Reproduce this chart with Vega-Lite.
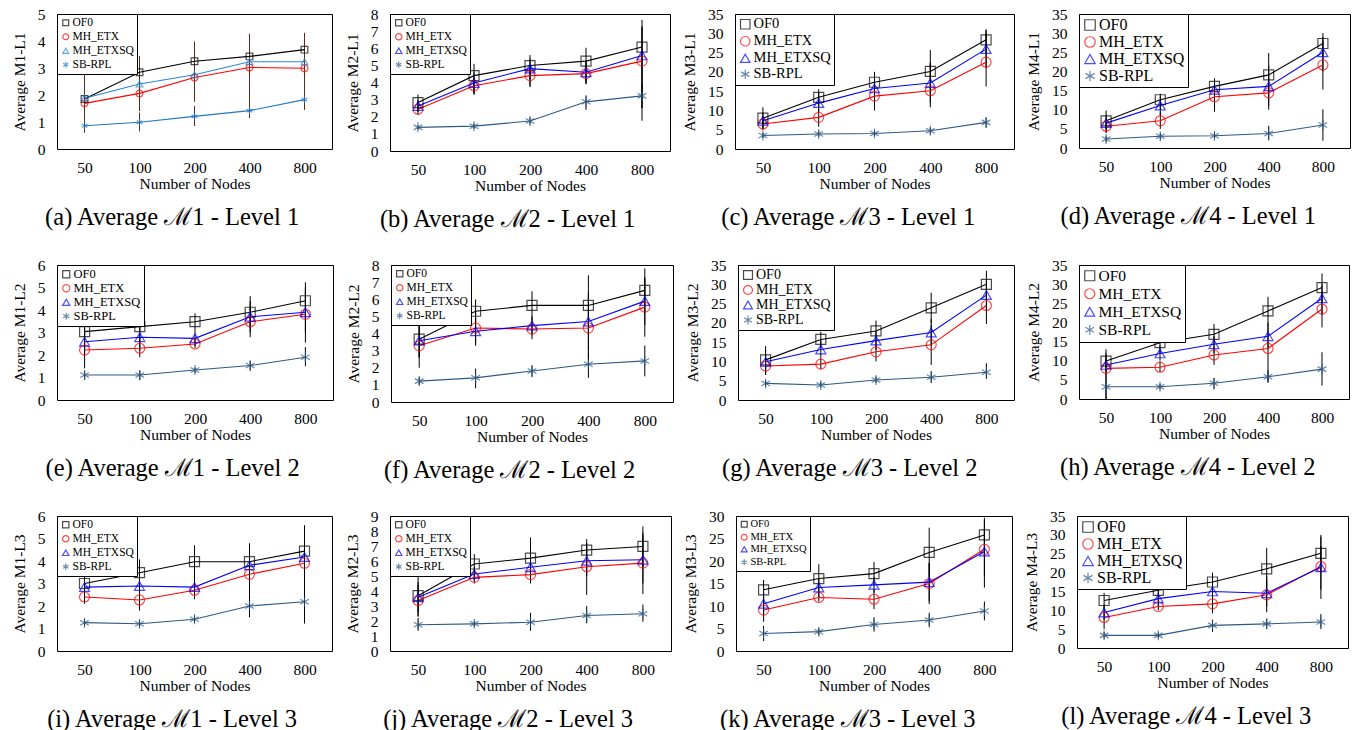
{
"$schema":"https://vega.github.io/schema/vega-lite/v6.json",
"padding":{"left":11,"top":6,"right":2,"bottom":0},
"data":{"values":[
{"p":"a","s":"OF0","n":50,"v":1.85,"lo":1.2,"hi":2.2},{"p":"a","s":"OF0","n":100,"v":2.84,"lo":2.3,"hi":3.1},{"p":"a","s":"OF0","n":200,"v":3.25,"lo":2.5,"hi":3.98},{"p":"a","s":"OF0","n":400,"v":3.43,"lo":2.9,"hi":3.95},{"p":"a","s":"OF0","n":800,"v":3.68,"lo":3.0,"hi":4.25},
{"p":"a","s":"MH_ETX","n":50,"v":1.69,"lo":1.0,"hi":2.9},{"p":"a","s":"MH_ETX","n":100,"v":2.06,"lo":1.4,"hi":3.45},{"p":"a","s":"MH_ETX","n":200,"v":2.65,"lo":1.75,"hi":3.78},{"p":"a","s":"MH_ETX","n":400,"v":3.02,"lo":1.8,"hi":4.27},{"p":"a","s":"MH_ETX","n":800,"v":2.99,"lo":2.2,"hi":4.3},
{"p":"a","s":"MH_ETXSQ","n":50,"v":1.88,"lo":1.5,"hi":2.1},{"p":"a","s":"MH_ETXSQ","n":100,"v":2.41,"lo":2.0,"hi":2.8},{"p":"a","s":"MH_ETXSQ","n":200,"v":2.75,"lo":2.4,"hi":3.1},{"p":"a","s":"MH_ETXSQ","n":400,"v":3.23,"lo":2.2,"hi":3.9},{"p":"a","s":"MH_ETXSQ","n":800,"v":3.23,"lo":2.2,"hi":4.0},
{"p":"a","s":"SB-RPL","n":50,"v":0.86,"lo":0.6,"hi":1.1},{"p":"a","s":"SB-RPL","n":100,"v":0.99,"lo":0.65,"hi":1.35},{"p":"a","s":"SB-RPL","n":200,"v":1.21,"lo":0.85,"hi":1.6},{"p":"a","s":"SB-RPL","n":400,"v":1.42,"lo":1.15,"hi":2.2},{"p":"a","s":"SB-RPL","n":800,"v":1.83,"lo":1.45,"hi":2.2},
{"p":"b","s":"OF0","n":50,"v":2.83,"lo":2.3,"hi":3.3},{"p":"b","s":"OF0","n":100,"v":4.4,"lo":3.3,"hi":5.09},{"p":"b","s":"OF0","n":200,"v":4.99,"lo":3.73,"hi":5.6},{"p":"b","s":"OF0","n":400,"v":5.25,"lo":3.93,"hi":6.03},{"p":"b","s":"OF0","n":800,"v":6.07,"lo":1.77,"hi":7.66},
{"p":"b","s":"MH_ETX","n":50,"v":2.44,"lo":2.1,"hi":2.9},{"p":"b","s":"MH_ETX","n":100,"v":3.81,"lo":3.3,"hi":4.3},{"p":"b","s":"MH_ETX","n":200,"v":4.4,"lo":3.8,"hi":5.0},{"p":"b","s":"MH_ETX","n":400,"v":4.52,"lo":3.9,"hi":5.2},{"p":"b","s":"MH_ETX","n":800,"v":5.25,"lo":2.5,"hi":7.2},
{"p":"b","s":"MH_ETXSQ","n":50,"v":2.63,"lo":2.3,"hi":3.0},{"p":"b","s":"MH_ETXSQ","n":100,"v":3.97,"lo":3.4,"hi":4.6},{"p":"b","s":"MH_ETXSQ","n":200,"v":4.81,"lo":4.2,"hi":5.4},{"p":"b","s":"MH_ETXSQ","n":400,"v":4.6,"lo":4.0,"hi":5.3},{"p":"b","s":"MH_ETXSQ","n":800,"v":5.58,"lo":3.0,"hi":7.3},
{"p":"b","s":"SB-RPL","n":50,"v":1.38,"lo":1.25,"hi":1.5},{"p":"b","s":"SB-RPL","n":100,"v":1.45,"lo":1.3,"hi":1.6},{"p":"b","s":"SB-RPL","n":200,"v":1.75,"lo":1.55,"hi":1.95},{"p":"b","s":"SB-RPL","n":400,"v":2.87,"lo":2.4,"hi":3.25},{"p":"b","s":"SB-RPL","n":800,"v":3.22,"lo":2.5,"hi":3.9},
{"p":"c","s":"OF0","n":50,"v":8.0,"lo":5,"hi":10.8},{"p":"c","s":"OF0","n":100,"v":13.4,"lo":11,"hi":15.5},{"p":"c","s":"OF0","n":200,"v":17.3,"lo":14.5,"hi":20},{"p":"c","s":"OF0","n":400,"v":20.1,"lo":15,"hi":25.7},{"p":"c","s":"OF0","n":800,"v":28.3,"lo":25,"hi":30.9},
{"p":"c","s":"MH_ETX","n":50,"v":6.5,"lo":5,"hi":8.5},{"p":"c","s":"MH_ETX","n":100,"v":8.2,"lo":5.8,"hi":10.5},{"p":"c","s":"MH_ETX","n":200,"v":13.7,"lo":10,"hi":17.5},{"p":"c","s":"MH_ETX","n":400,"v":15.1,"lo":10.8,"hi":22.5},{"p":"c","s":"MH_ETX","n":800,"v":22.5,"lo":16.2,"hi":31},
{"p":"c","s":"MH_ETXSQ","n":50,"v":7.3,"lo":5.5,"hi":9.5},{"p":"c","s":"MH_ETXSQ","n":100,"v":11.9,"lo":9.5,"hi":14.5},{"p":"c","s":"MH_ETXSQ","n":200,"v":15.7,"lo":12.5,"hi":18.5},{"p":"c","s":"MH_ETXSQ","n":400,"v":17.1,"lo":12,"hi":22},{"p":"c","s":"MH_ETXSQ","n":800,"v":25.9,"lo":21,"hi":30},
{"p":"c","s":"SB-RPL","n":50,"v":3.5,"lo":2.8,"hi":4.2},{"p":"c","s":"SB-RPL","n":100,"v":3.9,"lo":3.2,"hi":4.6},{"p":"c","s":"SB-RPL","n":200,"v":4.0,"lo":3.3,"hi":4.8},{"p":"c","s":"SB-RPL","n":400,"v":4.75,"lo":3.9,"hi":5.6},{"p":"c","s":"SB-RPL","n":800,"v":6.9,"lo":5.5,"hi":8.2},
{"p":"d","s":"OF0","n":50,"v":7.1,"lo":4,"hi":9.8},{"p":"d","s":"OF0","n":100,"v":12.6,"lo":10,"hi":14.2},{"p":"d","s":"OF0","n":200,"v":16.1,"lo":13,"hi":18.2},{"p":"d","s":"OF0","n":400,"v":19.1,"lo":14,"hi":24.8},{"p":"d","s":"OF0","n":800,"v":27.3,"lo":24,"hi":30},
{"p":"d","s":"MH_ETX","n":50,"v":5.7,"lo":4,"hi":7.5},{"p":"d","s":"MH_ETX","n":100,"v":7.1,"lo":5,"hi":9.5},{"p":"d","s":"MH_ETX","n":200,"v":13.4,"lo":9.5,"hi":17},{"p":"d","s":"MH_ETX","n":400,"v":14.4,"lo":10,"hi":19},{"p":"d","s":"MH_ETX","n":800,"v":21.7,"lo":15.3,"hi":28},
{"p":"d","s":"MH_ETXSQ","n":50,"v":6.5,"lo":5,"hi":8.5},{"p":"d","s":"MH_ETXSQ","n":100,"v":11.1,"lo":8.5,"hi":13.5},{"p":"d","s":"MH_ETXSQ","n":200,"v":15.2,"lo":12,"hi":18},{"p":"d","s":"MH_ETXSQ","n":400,"v":16.1,"lo":11,"hi":21.5},{"p":"d","s":"MH_ETXSQ","n":800,"v":25.0,"lo":20,"hi":29},
{"p":"d","s":"SB-RPL","n":50,"v":2.35,"lo":1.5,"hi":3.2},{"p":"d","s":"SB-RPL","n":100,"v":3.05,"lo":2.2,"hi":3.9},{"p":"d","s":"SB-RPL","n":200,"v":3.2,"lo":2.3,"hi":4.1},{"p":"d","s":"SB-RPL","n":400,"v":3.8,"lo":2,"hi":5.8},{"p":"d","s":"SB-RPL","n":800,"v":6.0,"lo":1.9,"hi":10.1},
{"p":"e","s":"OF0","n":50,"v":3.04,"lo":2.7,"hi":3.38},{"p":"e","s":"OF0","n":100,"v":3.26,"lo":2.6,"hi":3.96},{"p":"e","s":"OF0","n":200,"v":3.48,"lo":3.1,"hi":3.85},{"p":"e","s":"OF0","n":400,"v":3.9,"lo":3.2,"hi":4.62},{"p":"e","s":"OF0","n":800,"v":4.41,"lo":3.6,"hi":5.23},
{"p":"e","s":"MH_ETX","n":50,"v":2.22,"lo":1.41,"hi":3.0},{"p":"e","s":"MH_ETX","n":100,"v":2.3,"lo":1.9,"hi":2.7},{"p":"e","s":"MH_ETX","n":200,"v":2.49,"lo":2.3,"hi":2.7},{"p":"e","s":"MH_ETX","n":400,"v":3.48,"lo":2.79,"hi":4.1},{"p":"e","s":"MH_ETX","n":800,"v":3.81,"lo":2.55,"hi":5.0},
{"p":"e","s":"MH_ETXSQ","n":50,"v":2.59,"lo":2.0,"hi":3.2},{"p":"e","s":"MH_ETXSQ","n":100,"v":2.79,"lo":2.2,"hi":3.4},{"p":"e","s":"MH_ETXSQ","n":200,"v":2.74,"lo":2.4,"hi":3.1},{"p":"e","s":"MH_ETXSQ","n":400,"v":3.7,"lo":3.0,"hi":4.4},{"p":"e","s":"MH_ETXSQ","n":800,"v":3.9,"lo":3.0,"hi":4.8},
{"p":"e","s":"SB-RPL","n":50,"v":1.11,"lo":0.9,"hi":1.3},{"p":"e","s":"SB-RPL","n":100,"v":1.11,"lo":0.88,"hi":1.32},{"p":"e","s":"SB-RPL","n":200,"v":1.33,"lo":1.2,"hi":1.45},{"p":"e","s":"SB-RPL","n":400,"v":1.53,"lo":1.3,"hi":1.75},{"p":"e","s":"SB-RPL","n":800,"v":1.9,"lo":1.5,"hi":2.35},
{"p":"f","s":"OF0","n":50,"v":3.67,"lo":2.6,"hi":4.79},{"p":"f","s":"OF0","n":100,"v":5.3,"lo":4.6,"hi":5.99},{"p":"f","s":"OF0","n":200,"v":5.64,"lo":4.8,"hi":6.46},{"p":"f","s":"OF0","n":400,"v":5.64,"lo":3.9,"hi":7.4},{"p":"f","s":"OF0","n":800,"v":6.52,"lo":5.2,"hi":7.8},
{"p":"f","s":"MH_ETX","n":50,"v":3.28,"lo":2.0,"hi":4.5},{"p":"f","s":"MH_ETX","n":100,"v":4.32,"lo":3.28,"hi":5.3},{"p":"f","s":"MH_ETX","n":200,"v":4.26,"lo":3.67,"hi":4.85},{"p":"f","s":"MH_ETX","n":400,"v":4.32,"lo":2.5,"hi":6.2},{"p":"f","s":"MH_ETX","n":800,"v":5.54,"lo":3.81,"hi":7.2},
{"p":"f","s":"MH_ETXSQ","n":50,"v":3.58,"lo":2.6,"hi":4.6},{"p":"f","s":"MH_ETXSQ","n":100,"v":4.13,"lo":3.4,"hi":4.9},{"p":"f","s":"MH_ETXSQ","n":200,"v":4.46,"lo":3.9,"hi":5.0},{"p":"f","s":"MH_ETXSQ","n":400,"v":4.7,"lo":3.0,"hi":6.4},{"p":"f","s":"MH_ETXSQ","n":800,"v":5.89,"lo":4.5,"hi":7.3},
{"p":"f","s":"SB-RPL","n":50,"v":1.22,"lo":1.0,"hi":1.45},{"p":"f","s":"SB-RPL","n":100,"v":1.41,"lo":0.8,"hi":1.95},{"p":"f","s":"SB-RPL","n":200,"v":1.81,"lo":1.45,"hi":2.15},{"p":"f","s":"SB-RPL","n":400,"v":2.2,"lo":1.41,"hi":2.9},{"p":"f","s":"SB-RPL","n":800,"v":2.4,"lo":1.5,"hi":3.3},
{"p":"g","s":"OF0","n":50,"v":10.4,"lo":6.5,"hi":14},{"p":"g","s":"OF0","n":100,"v":15.7,"lo":13.5,"hi":17.7},{"p":"g","s":"OF0","n":200,"v":17.9,"lo":15,"hi":20.6},{"p":"g","s":"OF0","n":400,"v":23.9,"lo":20,"hi":27.8},{"p":"g","s":"OF0","n":800,"v":30.0,"lo":26,"hi":33.5},
{"p":"g","s":"MH_ETX","n":50,"v":8.8,"lo":6.5,"hi":11.5},{"p":"g","s":"MH_ETX","n":100,"v":9.3,"lo":8,"hi":11},{"p":"g","s":"MH_ETX","n":200,"v":12.5,"lo":10,"hi":15},{"p":"g","s":"MH_ETX","n":400,"v":14.3,"lo":9.1,"hi":19.5},{"p":"g","s":"MH_ETX","n":800,"v":24.5,"lo":19.7,"hi":29},
{"p":"g","s":"MH_ETXSQ","n":50,"v":9.9,"lo":7,"hi":13},{"p":"g","s":"MH_ETXSQ","n":100,"v":13.1,"lo":11,"hi":15.5},{"p":"g","s":"MH_ETXSQ","n":200,"v":15.4,"lo":13,"hi":17.8},{"p":"g","s":"MH_ETXSQ","n":400,"v":17.5,"lo":14,"hi":21},{"p":"g","s":"MH_ETXSQ","n":800,"v":27.2,"lo":23,"hi":31},
{"p":"g","s":"SB-RPL","n":50,"v":4.3,"lo":3.5,"hi":5.2},{"p":"g","s":"SB-RPL","n":100,"v":3.9,"lo":3.2,"hi":4.7},{"p":"g","s":"SB-RPL","n":200,"v":5.2,"lo":4.4,"hi":6.1},{"p":"g","s":"SB-RPL","n":400,"v":5.9,"lo":4.4,"hi":7.5},{"p":"g","s":"SB-RPL","n":800,"v":7.2,"lo":5.5,"hi":9.5},
{"p":"h","s":"OF0","n":50,"v":9.9,"lo":7,"hi":13},{"p":"h","s":"OF0","n":100,"v":14.7,"lo":12,"hi":17.5},{"p":"h","s":"OF0","n":200,"v":16.9,"lo":14,"hi":19.6},{"p":"h","s":"OF0","n":400,"v":23.0,"lo":19,"hi":26.7},{"p":"h","s":"OF0","n":800,"v":29.1,"lo":25.5,"hi":32.8},
{"p":"h","s":"MH_ETX","n":50,"v":8.0,"lo":0,"hi":11},{"p":"h","s":"MH_ETX","n":100,"v":8.3,"lo":7,"hi":9.8},{"p":"h","s":"MH_ETX","n":200,"v":11.5,"lo":8.9,"hi":14},{"p":"h","s":"MH_ETX","n":400,"v":13.2,"lo":4.5,"hi":19},{"p":"h","s":"MH_ETX","n":800,"v":23.5,"lo":18.7,"hi":28},
{"p":"h","s":"MH_ETXSQ","n":50,"v":8.9,"lo":6,"hi":12},{"p":"h","s":"MH_ETXSQ","n":100,"v":11.9,"lo":10,"hi":14},{"p":"h","s":"MH_ETXSQ","n":200,"v":14.3,"lo":12,"hi":16.5},{"p":"h","s":"MH_ETXSQ","n":400,"v":16.4,"lo":13,"hi":20},{"p":"h","s":"MH_ETXSQ","n":800,"v":26.3,"lo":22,"hi":30},
{"p":"h","s":"SB-RPL","n":50,"v":3.2,"lo":0,"hi":6},{"p":"h","s":"SB-RPL","n":100,"v":3.2,"lo":2.5,"hi":4},{"p":"h","s":"SB-RPL","n":200,"v":4.1,"lo":2.5,"hi":5.5},{"p":"h","s":"SB-RPL","n":400,"v":5.8,"lo":4.2,"hi":7.5},{"p":"h","s":"SB-RPL","n":800,"v":7.8,"lo":3.5,"hi":12.2},
{"p":"i","s":"OF0","n":50,"v":3.0,"lo":2.5,"hi":3.5},{"p":"i","s":"OF0","n":100,"v":3.48,"lo":2.9,"hi":4.07},{"p":"i","s":"OF0","n":200,"v":3.97,"lo":3.2,"hi":4.7},{"p":"i","s":"OF0","n":400,"v":3.97,"lo":3.1,"hi":4.79},{"p":"i","s":"OF0","n":800,"v":4.44,"lo":3.3,"hi":5.59},
{"p":"i","s":"MH_ETX","n":50,"v":2.4,"lo":2.1,"hi":2.7},{"p":"i","s":"MH_ETX","n":100,"v":2.27,"lo":1.8,"hi":2.75},{"p":"i","s":"MH_ETX","n":200,"v":2.7,"lo":2.3,"hi":3.1},{"p":"i","s":"MH_ETX","n":400,"v":3.41,"lo":2.5,"hi":4.3},{"p":"i","s":"MH_ETX","n":800,"v":3.9,"lo":1.23,"hi":5.3},
{"p":"i","s":"MH_ETXSQ","n":50,"v":2.84,"lo":2.5,"hi":3.2},{"p":"i","s":"MH_ETXSQ","n":100,"v":2.89,"lo":2.4,"hi":3.4},{"p":"i","s":"MH_ETXSQ","n":200,"v":2.84,"lo":2.5,"hi":3.2},{"p":"i","s":"MH_ETXSQ","n":400,"v":3.81,"lo":3.1,"hi":4.5},{"p":"i","s":"MH_ETXSQ","n":800,"v":4.18,"lo":3.0,"hi":5.3},
{"p":"i","s":"SB-RPL","n":50,"v":1.26,"lo":1.1,"hi":1.42},{"p":"i","s":"SB-RPL","n":100,"v":1.21,"lo":1.05,"hi":1.38},{"p":"i","s":"SB-RPL","n":200,"v":1.41,"lo":1.25,"hi":1.58},{"p":"i","s":"SB-RPL","n":400,"v":2.0,"lo":1.5,"hi":2.5},{"p":"i","s":"SB-RPL","n":800,"v":2.19,"lo":1.23,"hi":3.1},
{"p":"j","s":"OF0","n":50,"v":3.69,"lo":2.3,"hi":5.09},{"p":"j","s":"OF0","n":100,"v":5.8,"lo":5.1,"hi":6.46},{"p":"j","s":"OF0","n":200,"v":6.19,"lo":4.8,"hi":7.57},{"p":"j","s":"OF0","n":400,"v":6.73,"lo":6.0,"hi":7.46},{"p":"j","s":"OF0","n":800,"v":6.97,"lo":5.6,"hi":8.3},
{"p":"j","s":"MH_ETX","n":50,"v":3.36,"lo":2.3,"hi":4.4},{"p":"j","s":"MH_ETX","n":100,"v":4.91,"lo":4.5,"hi":5.3},{"p":"j","s":"MH_ETX","n":200,"v":5.09,"lo":4.5,"hi":5.7},{"p":"j","s":"MH_ETX","n":400,"v":5.62,"lo":3.74,"hi":7.2},{"p":"j","s":"MH_ETX","n":800,"v":5.86,"lo":3.8,"hi":7.9},
{"p":"j","s":"MH_ETXSQ","n":50,"v":3.58,"lo":2.6,"hi":4.6},{"p":"j","s":"MH_ETXSQ","n":100,"v":5.13,"lo":4.7,"hi":5.6},{"p":"j","s":"MH_ETXSQ","n":200,"v":5.58,"lo":5.0,"hi":6.2},{"p":"j","s":"MH_ETXSQ","n":400,"v":6.02,"lo":5.0,"hi":7.0},{"p":"j","s":"MH_ETXSQ","n":800,"v":6.08,"lo":4.5,"hi":7.7},
{"p":"j","s":"SB-RPL","n":50,"v":1.75,"lo":1.35,"hi":2.2},{"p":"j","s":"SB-RPL","n":100,"v":1.81,"lo":1.6,"hi":2.0},{"p":"j","s":"SB-RPL","n":200,"v":1.92,"lo":1.35,"hi":2.55},{"p":"j","s":"SB-RPL","n":400,"v":2.37,"lo":1.85,"hi":3.0},{"p":"j","s":"SB-RPL","n":800,"v":2.48,"lo":1.95,"hi":3.1},
{"p":"k","s":"OF0","n":50,"v":13.6,"lo":11.5,"hi":15.8},{"p":"k","s":"OF0","n":100,"v":16.1,"lo":13,"hi":19.3},{"p":"k","s":"OF0","n":200,"v":17.2,"lo":14.6,"hi":19.8},{"p":"k","s":"OF0","n":400,"v":21.9,"lo":16.5,"hi":27.4},{"p":"k","s":"OF0","n":800,"v":25.8,"lo":22,"hi":29.6},
{"p":"k","s":"MH_ETX","n":50,"v":9.1,"lo":6.5,"hi":11.5},{"p":"k","s":"MH_ETX","n":100,"v":11.9,"lo":11,"hi":13},{"p":"k","s":"MH_ETX","n":200,"v":11.5,"lo":9.3,"hi":13.7},{"p":"k","s":"MH_ETX","n":400,"v":15.0,"lo":10.4,"hi":19.6},{"p":"k","s":"MH_ETX","n":800,"v":22.6,"lo":14.1,"hi":29},
{"p":"k","s":"MH_ETXSQ","n":50,"v":10.5,"lo":8,"hi":13},{"p":"k","s":"MH_ETXSQ","n":100,"v":14.1,"lo":12,"hi":16},{"p":"k","s":"MH_ETXSQ","n":200,"v":14.7,"lo":13,"hi":16.5},{"p":"k","s":"MH_ETXSQ","n":400,"v":15.3,"lo":11,"hi":19.5},{"p":"k","s":"MH_ETXSQ","n":800,"v":22.1,"lo":16.5,"hi":27.5},
{"p":"k","s":"SB-RPL","n":50,"v":3.9,"lo":2.2,"hi":5.6},{"p":"k","s":"SB-RPL","n":100,"v":4.3,"lo":3.5,"hi":5.1},{"p":"k","s":"SB-RPL","n":200,"v":5.9,"lo":4.3,"hi":7.5},{"p":"k","s":"SB-RPL","n":400,"v":6.9,"lo":5.3,"hi":8.5},{"p":"k","s":"SB-RPL","n":800,"v":8.9,"lo":6.8,"hi":11},
{"p":"l","s":"OF0","n":50,"v":12.6,"lo":10.5,"hi":14.6},{"p":"l","s":"OF0","n":100,"v":15.3,"lo":12,"hi":18.5},{"p":"l","s":"OF0","n":200,"v":17.5,"lo":15,"hi":20},{"p":"l","s":"OF0","n":400,"v":21.0,"lo":15.5,"hi":26.5},{"p":"l","s":"OF0","n":800,"v":25.1,"lo":20,"hi":30},
{"p":"l","s":"MH_ETX","n":50,"v":8.1,"lo":5,"hi":11},{"p":"l","s":"MH_ETX","n":100,"v":11.0,"lo":10,"hi":12},{"p":"l","s":"MH_ETX","n":200,"v":11.7,"lo":9.2,"hi":14},{"p":"l","s":"MH_ETX","n":400,"v":14.1,"lo":9.5,"hi":19},{"p":"l","s":"MH_ETX","n":800,"v":21.6,"lo":13,"hi":29.5},
{"p":"l","s":"MH_ETXSQ","n":50,"v":9.4,"lo":7.5,"hi":11.5},{"p":"l","s":"MH_ETXSQ","n":100,"v":13.1,"lo":11,"hi":15},{"p":"l","s":"MH_ETXSQ","n":200,"v":15.0,"lo":13.5,"hi":16.5},{"p":"l","s":"MH_ETXSQ","n":400,"v":14.5,"lo":11,"hi":18},{"p":"l","s":"MH_ETXSQ","n":800,"v":21.4,"lo":15.5,"hi":27},
{"p":"l","s":"SB-RPL","n":50,"v":3.35,"lo":2.5,"hi":4.2},{"p":"l","s":"SB-RPL","n":100,"v":3.35,"lo":2.6,"hi":4.1},{"p":"l","s":"SB-RPL","n":200,"v":6.0,"lo":4.3,"hi":7.5},{"p":"l","s":"SB-RPL","n":400,"v":6.4,"lo":5,"hi":7.8},{"p":"l","s":"SB-RPL","n":800,"v":6.9,"lo":5,"hi":9}
]},
"resolve":{"scale":{"color":"independent","shape":"independent","stroke":"independent","x":"independent","y":"independent"},"legend":{"color":"independent","shape":"independent","stroke":"independent"}},
"spacing":25,
"vconcat":[
{"spacing":11,"resolve":{"scale":{"color":"independent","shape":"independent","stroke":"independent","x":"independent","y":"independent"},"legend":{"color":"independent","shape":"independent","stroke":"independent"}},
"hconcat":[
{"width":275,"height":135,"transform":[{"filter":"datum.p=='a'"}],"title":"(a) Average ℳ1 - Level 1",
 "encoding":{"x":{"field":"n","type":"ordinal","scale":{"type":"point","padding":0.5},"axis":{"title":"Number of Nodes"}}},
 "layer":[
  {"mark":{"type":"rule","color":"#5a2a1a"},"encoding":{"y":{"field":"lo","type":"quantitative","scale":{"domain":[0,5]},"axis":{"title":"Average M1-L1","tickCount":5}},"y2":{"field":"hi"}}},
  {"mark":"line","encoding":{"y":{"field":"v","type":"quantitative","title":"Average M1-L1"},"stroke":{"field":"s","type":"nominal","scale":{"range":["red","#2a86d6","black","#2077c4"]},"legend":null}}},
  {"mark":{"type":"point","size":45},"encoding":{"y":{"field":"v","type":"quantitative","title":"Average M1-L1"},"color":{"field":"s","type":"nominal","scale":{"domain":["OF0","MH_ETX","MH_ETXSQ","SB-RPL"],"range":["black","red","#2a86d6","#2077c4"]},"legend":{"title":null,"labelFontSize":11.5,"symbolSize":35}},"shape":{"field":"s","type":"nominal","scale":{"domain":["OF0","MH_ETX","MH_ETXSQ","SB-RPL"]},"legend":{"title":null,"labelFontSize":11.5,"symbolSize":35}}}}
 ]},
{"width":280,"height":137,"transform":[{"filter":"datum.p=='b'"}],"title":"(b) Average ℳ2 - Level 1",
 "encoding":{"x":{"field":"n","type":"ordinal","scale":{"type":"point","padding":0.5},"axis":{"title":"Number of Nodes"}}},
 "layer":[
  {"mark":{"type":"rule","color":"black"},"encoding":{"y":{"field":"lo","type":"quantitative","scale":{"domain":[0,8]},"axis":{"title":"Average M2-L1","tickCount":8}},"y2":{"field":"hi"}}},
  {"mark":"line","encoding":{"y":{"field":"v","type":"quantitative","title":"Average M2-L1"},"stroke":{"field":"s","type":"nominal","scale":{"range":["red","blue","black","#2c5a86"]},"legend":null}}},
  {"mark":{"type":"point","size":100},"encoding":{"y":{"field":"v","type":"quantitative","title":"Average M2-L1"},"color":{"field":"s","type":"nominal","scale":{"domain":["OF0","MH_ETX","MH_ETXSQ","SB-RPL"]},"legend":{"title":null,"labelFontSize":11.5,"symbolSize":40}},"shape":{"field":"s","type":"nominal","scale":{"domain":["OF0","MH_ETX","MH_ETXSQ","SB-RPL"]},"legend":{"title":null,"labelFontSize":11.5,"symbolSize":40}}}}
 ]},
{"width":279,"height":135,"transform":[{"filter":"datum.p=='c'"}],"title":"(c) Average ℳ3 - Level 1",
 "encoding":{"x":{"field":"n","type":"ordinal","scale":{"type":"point","padding":0.5},"axis":{"title":"Number of Nodes"}}},
 "layer":[
  {"mark":{"type":"rule","color":"black"},"encoding":{"y":{"field":"lo","type":"quantitative","scale":{"domain":[0,35]},"axis":{"title":"Average M3-L1","tickCount":8}},"y2":{"field":"hi"}}},
  {"mark":"line","encoding":{"y":{"field":"v","type":"quantitative","title":"Average M3-L1"},"stroke":{"field":"s","type":"nominal","scale":{"range":["red","blue","black","#2c5a86"]},"legend":null}}},
  {"mark":{"type":"point","size":100},"encoding":{"y":{"field":"v","type":"quantitative","title":"Average M3-L1"},"color":{"field":"s","type":"nominal","scale":{"domain":["OF0","MH_ETX","MH_ETXSQ","SB-RPL"]},"legend":{"title":null,"labelFontSize":14.5,"symbolSize":90}},"shape":{"field":"s","type":"nominal","scale":{"domain":["OF0","MH_ETX","MH_ETXSQ","SB-RPL"]},"legend":{"title":null,"labelFontSize":14.5,"symbolSize":90}}}}
 ]},
{"width":271,"height":134,"transform":[{"filter":"datum.p=='d'"}],"title":"(d) Average ℳ4 - Level 1",
 "encoding":{"x":{"field":"n","type":"ordinal","scale":{"type":"point","padding":0.5},"axis":{"title":"Number of Nodes"}}},
 "layer":[
  {"mark":{"type":"rule","color":"black"},"encoding":{"y":{"field":"lo","type":"quantitative","scale":{"domain":[0,35]},"axis":{"title":"Average M4-L1","tickCount":8}},"y2":{"field":"hi"}}},
  {"mark":"line","encoding":{"y":{"field":"v","type":"quantitative","title":"Average M4-L1"},"stroke":{"field":"s","type":"nominal","scale":{"range":["red","blue","black","#2c5a86"]},"legend":null}}},
  {"mark":{"type":"point","size":100},"encoding":{"y":{"field":"v","type":"quantitative","title":"Average M4-L1"},"color":{"field":"s","type":"nominal","scale":{"domain":["OF0","MH_ETX","MH_ETXSQ","SB-RPL"]},"legend":{"title":null,"labelFontSize":16,"symbolSize":110}},"shape":{"field":"s","type":"nominal","scale":{"domain":["OF0","MH_ETX","MH_ETXSQ","SB-RPL"]},"legend":{"title":null,"labelFontSize":16,"symbolSize":110}}}}
 ]}
]},
{"spacing":11,"resolve":{"scale":{"color":"independent","shape":"independent","stroke":"independent","x":"independent","y":"independent"},"legend":{"color":"independent","shape":"independent","stroke":"independent"}},
"hconcat":[
{"width":276,"height":135,"transform":[{"filter":"datum.p=='e'"}],"title":"(e) Average ℳ1 - Level 2",
 "encoding":{"x":{"field":"n","type":"ordinal","scale":{"type":"point","padding":0.5},"axis":{"title":"Number of Nodes"}}},
 "layer":[
  {"mark":{"type":"rule","color":"black"},"encoding":{"y":{"field":"lo","type":"quantitative","scale":{"domain":[0,6]},"axis":{"title":"Average M1-L2","tickCount":6}},"y2":{"field":"hi"}}},
  {"mark":"line","encoding":{"y":{"field":"v","type":"quantitative","title":"Average M1-L2"},"stroke":{"field":"s","type":"nominal","scale":{"range":["red","blue","black","#2c5a86"]},"legend":null}}},
  {"mark":{"type":"point","size":100},"encoding":{"y":{"field":"v","type":"quantitative","title":"Average M1-L2"},"color":{"field":"s","type":"nominal","scale":{"domain":["OF0","MH_ETX","MH_ETXSQ","SB-RPL"]},"legend":{"title":null,"labelFontSize":12.5,"symbolSize":50}},"shape":{"field":"s","type":"nominal","scale":{"domain":["OF0","MH_ETX","MH_ETXSQ","SB-RPL"]},"legend":{"title":null,"labelFontSize":12.5,"symbolSize":50}}}}
 ]},
{"width":282,"height":137,"transform":[{"filter":"datum.p=='f'"}],"title":"(f) Average ℳ2 - Level 2",
 "encoding":{"x":{"field":"n","type":"ordinal","scale":{"type":"point","padding":0.5},"axis":{"title":"Number of Nodes"}}},
 "layer":[
  {"mark":{"type":"rule","color":"black"},"encoding":{"y":{"field":"lo","type":"quantitative","scale":{"domain":[0,8]},"axis":{"title":"Average M2-L2","tickCount":8}},"y2":{"field":"hi"}}},
  {"mark":"line","encoding":{"y":{"field":"v","type":"quantitative","title":"Average M2-L2"},"stroke":{"field":"s","type":"nominal","scale":{"range":["red","blue","black","#2c5a86"]},"legend":null}}},
  {"mark":{"type":"point","size":100},"encoding":{"y":{"field":"v","type":"quantitative","title":"Average M2-L2"},"color":{"field":"s","type":"nominal","scale":{"domain":["OF0","MH_ETX","MH_ETXSQ","SB-RPL"]},"legend":{"title":null,"labelFontSize":11.5,"symbolSize":40}},"shape":{"field":"s","type":"nominal","scale":{"domain":["OF0","MH_ETX","MH_ETXSQ","SB-RPL"]},"legend":{"title":null,"labelFontSize":11.5,"symbolSize":40}}}}
 ]},
{"width":276,"height":135,"transform":[{"filter":"datum.p=='g'"}],"title":"(g) Average ℳ3 - Level 2",
 "encoding":{"x":{"field":"n","type":"ordinal","scale":{"type":"point","padding":0.5},"axis":{"title":"Number of Nodes"}}},
 "layer":[
  {"mark":{"type":"rule","color":"black"},"encoding":{"y":{"field":"lo","type":"quantitative","scale":{"domain":[0,35]},"axis":{"title":"Average M3-L2","tickCount":8}},"y2":{"field":"hi"}}},
  {"mark":"line","encoding":{"y":{"field":"v","type":"quantitative","title":"Average M3-L2"},"stroke":{"field":"s","type":"nominal","scale":{"range":["red","blue","black","#2c5a86"]},"legend":null}}},
  {"mark":{"type":"point","size":100},"encoding":{"y":{"field":"v","type":"quantitative","title":"Average M3-L2"},"color":{"field":"s","type":"nominal","scale":{"domain":["OF0","MH_ETX","MH_ETXSQ","SB-RPL"]},"legend":{"title":null,"labelFontSize":14,"symbolSize":80}},"shape":{"field":"s","type":"nominal","scale":{"domain":["OF0","MH_ETX","MH_ETXSQ","SB-RPL"]},"legend":{"title":null,"labelFontSize":14,"symbolSize":80}}}}
 ]},
{"width":270,"height":134,"transform":[{"filter":"datum.p=='h'"}],"title":"(h) Average ℳ4 - Level 2",
 "encoding":{"x":{"field":"n","type":"ordinal","scale":{"type":"point","padding":0.5},"axis":{"title":"Number of Nodes"}}},
 "layer":[
  {"mark":{"type":"rule","color":"black"},"encoding":{"y":{"field":"lo","type":"quantitative","scale":{"domain":[0,35]},"axis":{"title":"Average M4-L2","tickCount":8}},"y2":{"field":"hi"}}},
  {"mark":"line","encoding":{"y":{"field":"v","type":"quantitative","title":"Average M4-L2"},"stroke":{"field":"s","type":"nominal","scale":{"range":["red","blue","black","#2c5a86"]},"legend":null}}},
  {"mark":{"type":"point","size":100},"encoding":{"y":{"field":"v","type":"quantitative","title":"Average M4-L2"},"color":{"field":"s","type":"nominal","scale":{"domain":["OF0","MH_ETX","MH_ETXSQ","SB-RPL"]},"legend":{"title":null,"labelFontSize":15.5,"symbolSize":100}},"shape":{"field":"s","type":"nominal","scale":{"domain":["OF0","MH_ETX","MH_ETXSQ","SB-RPL"]},"legend":{"title":null,"labelFontSize":15.5,"symbolSize":100}}}}
 ]}
]},
{"spacing":11,"resolve":{"scale":{"color":"independent","shape":"independent","stroke":"independent","x":"independent","y":"independent"},"legend":{"color":"independent","shape":"independent","stroke":"independent"}},
"hconcat":[
{"width":275,"height":135,"transform":[{"filter":"datum.p=='i'"}],"title":"(i) Average ℳ1 - Level 3",
 "encoding":{"x":{"field":"n","type":"ordinal","scale":{"type":"point","padding":0.5},"axis":{"title":"Number of Nodes"}}},
 "layer":[
  {"mark":{"type":"rule","color":"black"},"encoding":{"y":{"field":"lo","type":"quantitative","scale":{"domain":[0,6]},"axis":{"title":"Average M1-L3","tickCount":6}},"y2":{"field":"hi"}}},
  {"mark":"line","encoding":{"y":{"field":"v","type":"quantitative","title":"Average M1-L3"},"stroke":{"field":"s","type":"nominal","scale":{"range":["red","blue","black","#2c5a86"]},"legend":null}}},
  {"mark":{"type":"point","size":100},"encoding":{"y":{"field":"v","type":"quantitative","title":"Average M1-L3"},"color":{"field":"s","type":"nominal","scale":{"domain":["OF0","MH_ETX","MH_ETXSQ","SB-RPL"]},"legend":{"title":null,"labelFontSize":11.5,"symbolSize":40}},"shape":{"field":"s","type":"nominal","scale":{"domain":["OF0","MH_ETX","MH_ETXSQ","SB-RPL"]},"legend":{"title":null,"labelFontSize":11.5,"symbolSize":40}}}}
 ]},
{"width":281,"height":135,"transform":[{"filter":"datum.p=='j'"}],"title":"(j) Average ℳ2 - Level 3",
 "encoding":{"x":{"field":"n","type":"ordinal","scale":{"type":"point","padding":0.5},"axis":{"title":"Number of Nodes"}}},
 "layer":[
  {"mark":{"type":"rule","color":"black"},"encoding":{"y":{"field":"lo","type":"quantitative","scale":{"domain":[0,9]},"axis":{"title":"Average M2-L3","tickCount":9}},"y2":{"field":"hi"}}},
  {"mark":"line","encoding":{"y":{"field":"v","type":"quantitative","title":"Average M2-L3"},"stroke":{"field":"s","type":"nominal","scale":{"range":["red","blue","black","#2c5a86"]},"legend":null}}},
  {"mark":{"type":"point","size":100},"encoding":{"y":{"field":"v","type":"quantitative","title":"Average M2-L3"},"color":{"field":"s","type":"nominal","scale":{"domain":["OF0","MH_ETX","MH_ETXSQ","SB-RPL"]},"legend":{"title":null,"labelFontSize":11.5,"symbolSize":40}},"shape":{"field":"s","type":"nominal","scale":{"domain":["OF0","MH_ETX","MH_ETXSQ","SB-RPL"]},"legend":{"title":null,"labelFontSize":11.5,"symbolSize":40}}}}
 ]},
{"width":276,"height":135,"transform":[{"filter":"datum.p=='k'"}],"title":"(k) Average ℳ3 - Level 3",
 "encoding":{"x":{"field":"n","type":"ordinal","scale":{"type":"point","padding":0.5},"axis":{"title":"Number of Nodes"}}},
 "layer":[
  {"mark":{"type":"rule","color":"black"},"encoding":{"y":{"field":"lo","type":"quantitative","scale":{"domain":[0,30]},"axis":{"title":"Average M3-L3","tickCount":6}},"y2":{"field":"hi"}}},
  {"mark":"line","encoding":{"y":{"field":"v","type":"quantitative","title":"Average M3-L3"},"stroke":{"field":"s","type":"nominal","scale":{"range":["red","blue","black","#2c5a86"]},"legend":null}}},
  {"mark":{"type":"point","size":100},"encoding":{"y":{"field":"v","type":"quantitative","title":"Average M3-L3"},"color":{"field":"s","type":"nominal","scale":{"domain":["OF0","MH_ETX","MH_ETXSQ","SB-RPL"]},"legend":{"title":null,"labelFontSize":10.5,"symbolSize":35}},"shape":{"field":"s","type":"nominal","scale":{"domain":["OF0","MH_ETX","MH_ETXSQ","SB-RPL"]},"legend":{"title":null,"labelFontSize":10.5,"symbolSize":35}}}}
 ]},
{"width":271,"height":132,"transform":[{"filter":"datum.p=='l'"}],"title":"(l) Average ℳ4 - Level 3",
 "encoding":{"x":{"field":"n","type":"ordinal","scale":{"type":"point","padding":0.5},"axis":{"title":"Number of Nodes"}}},
 "layer":[
  {"mark":{"type":"rule","color":"black"},"encoding":{"y":{"field":"lo","type":"quantitative","scale":{"domain":[0,35]},"axis":{"title":"Average M4-L3","tickCount":8}},"y2":{"field":"hi"}}},
  {"mark":"line","encoding":{"y":{"field":"v","type":"quantitative","title":"Average M4-L3"},"stroke":{"field":"s","type":"nominal","scale":{"range":["red","blue","black","#2c5a86"]},"legend":null}}},
  {"mark":{"type":"point","size":100},"encoding":{"y":{"field":"v","type":"quantitative","title":"Average M4-L3"},"color":{"field":"s","type":"nominal","scale":{"domain":["OF0","MH_ETX","MH_ETXSQ","SB-RPL"]},"legend":{"title":null,"labelFontSize":16,"symbolSize":110}},"shape":{"field":"s","type":"nominal","scale":{"domain":["OF0","MH_ETX","MH_ETXSQ","SB-RPL"]},"legend":{"title":null,"labelFontSize":16,"symbolSize":110}}}}
 ]}
]}
],
"config":{
 "font":"Liberation Serif",
 "view":{"stroke":"black","strokeWidth":1},
 "range":{"category":["black","red","blue","#2c5a86"],"symbol":["square","circle","triangle-up","M0,-1L0,1M-0.866,-0.5L0.866,0.5M-0.866,0.5L0.866,-0.5"]},
 "axis":{"grid":false,"domain":false,"ticks":false,"labelFont":"Liberation Serif","labelFontSize":15.5,"labelColor":"black","titleFont":"Liberation Serif","titleFontSize":15.5,"titleFontWeight":"normal","titleColor":"black","labelPadding":12,"labelOverlap":false},
 "axisX":{"labelAngle":0,"titlePadding":1,"labelPadding":11},
 "axisY":{"titlePadding":10},
 "legend":{"orient":"top-left","offset":0,"strokeColor":"black","fillColor":"white","padding":3,"labelFont":"Liberation Serif","labelColor":"black","labelOffset":1,"rowPadding":1,"symbolStrokeWidth":1.2,"symbolFillColor":"transparent"},
 "title":{"orient":"bottom","font":"Liberation Serif, DejaVu Serif","fontSize":24.5,"fontWeight":"normal","anchor":"middle","frame":"bounds","offset":14,"color":"black"},
 "point":{"filled":false,"strokeWidth":1.2},
 "line":{"strokeWidth":1.1},
 "rule":{"strokeWidth":1}
}
}
